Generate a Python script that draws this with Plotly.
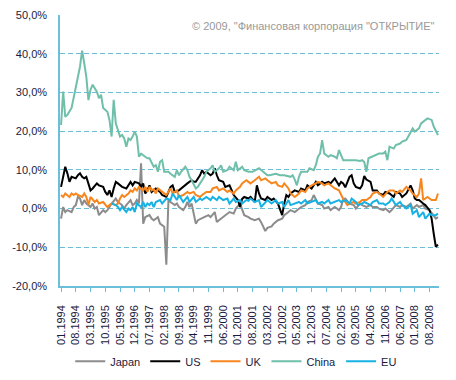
import plotly.graph_objects as go

# month index 0 = 01.1994
x_tick_pos = [0, 7, 14, 21, 28, 35, 42, 49, 56, 63, 70, 77, 84, 91, 98, 105, 112, 119, 126, 133, 140, 147, 154, 161, 168, 175]
x_tick_labels = ["01.1994", "08.1994", "03.1995", "10.1995", "05.1996", "12.1996", "07.1997", "02.1998",
                 "09.1998", "04.1999", "11.1999", "06.2000", "01.2001", "08.2001", "03.2002", "10.2002",
                 "05.2003", "12.2003", "07.2004", "02.2005", "09.2005", "04.2006", "11.2006", "06.2007",
                 "01.2008", "08.2008"]
y_tick_vals = [-20, -10, 0, 10, 20, 30, 40, 50]
y_tick_labels = ["-20,0%", "-10,0%", "0,0%", "10,0%", "20,0%", "30,0%", "40,0%", "50,0%"]

japan_m = [0,1,2,3,5,6,7,8,9,10,11,12,14,15,16,17,18,20,21,22,23,24,26,27,28,29,30,31,33,34,35,36,37,38,39,40,42,43,44,45,46,47,48,49,50,51,52,54,55,56,58,59,60,61,62,63,64,65,67,68,70,71,73,74,75,77,78,80,82,83,85,86,87,89,90,92,94,95,96,97,98,100,101,103,105,106,108,109,111,113,114,116,117,119,120,122,124,125,127,128,130,132,133,134,135,137,139,140,142,143,145,147,148,150,151,153,154,156,157,159,161,162,164,166,167,169,170,172,173,175,177,178,179]
japan_v = [-2.6,0.4,-0.9,-0.4,-0.9,0.4,0.9,3.0,2.6,0.9,2.2,1.3,0.4,1.3,0.0,0.4,-1.7,-0.4,-0.9,-0.4,0.4,1.3,2.6,1.7,1.3,0.9,0.0,0.9,2.2,0.9,1.3,2.2,1.3,11.7,-3.9,-2.2,-1.7,-2.6,-3.0,-2.6,-2.2,-3.9,-4.3,-4.7,-14.5,2.2,1.7,0.9,1.3,0.4,-0.4,0.4,1.7,0.4,1.3,-1.3,-3.9,-3.0,-2.6,-2.2,-1.7,-2.2,-0.9,-3.5,-3.0,-2.2,-1.7,-0.9,-1.3,0.0,1.3,0.0,-1.7,-2.2,-2.6,-3.0,-2.6,-3.5,-4.5,-5.8,-5.0,-4.6,-3.9,-3.0,-2.6,-1.7,-0.9,-0.4,-0.9,0.0,0.4,0.9,1.7,2.2,3.5,1.3,0.9,0.0,0.4,-0.4,0.4,-0.4,0.4,2.5,2.6,1.3,0.9,0.0,1.3,0.9,0.4,0.9,0.4,0.4,0.0,-0.4,0.0,-0.9,-0.4,0.9,0.4,0.9,0.4,1.3,0.0,0.9,0.4,0.9,0.0,-0.4,-1.7,-2.6,-2.2]

us_m = [0,1,2,3,4,5,7,8,9,10,11,12,14,15,16,17,18,20,21,22,23,24,25,26,27,28,29,31,32,33,34,35,37,38,39,40,41,42,43,44,45,47,48,50,52,53,54,56,57,59,60,62,63,64,66,67,68,69,71,72,73,74,75,77,78,80,81,82,84,85,86,87,89,90,92,93,94,95,97,98,100,101,103,105,106,107,108,109,111,113,114,116,117,119,121,122,124,125,127,128,130,132,133,134,135,136,137,138,139,140,142,143,144,145,147,148,150,151,153,154,156,158,159,161,162,164,166,167,168,169,170,172,173,175,176,177,178,179]
us_v = [5.6,8.2,10.8,9.1,6.9,8.2,7.8,8.6,9.1,8.2,7.8,8.2,4.7,5.2,6.0,6.5,6.0,5.6,4.3,3.5,4.7,3.0,5.2,6.9,6.5,6.0,5.6,5.2,6.0,6.9,6.0,6.9,6.5,5.6,6.5,3.9,4.7,6.0,4.3,4.7,5.2,4.3,3.5,3.0,5.6,6.0,4.3,4.7,5.2,6.0,6.5,7.3,6.9,6.9,8.6,9.9,9.0,9.5,8.6,9.0,10.4,8.6,7.3,6.9,5.6,6.0,4.7,3.5,2.2,0.4,2.5,3.0,2.6,3.0,1.7,6.0,3.9,2.6,2.2,3.0,2.2,2.6,1.3,-1.7,1.3,3.5,3.0,3.9,4.7,4.3,5.2,4.7,6.0,5.2,6.9,6.0,6.9,6.5,6.9,6.5,7.8,6.0,6.9,6.5,5.5,6.9,8.2,8.6,6.5,5.6,5.2,6.0,8.4,7.5,6.9,4.7,4.7,3.9,3.5,4.3,3.9,3.0,4.3,3.9,3.0,3.9,6.0,4.7,2.6,2.2,2.2,1.3,0.9,-0.4,-2.6,-6.5,-9.9,-9.3]

uk_m = [0,1,2,4,5,6,7,8,10,11,12,13,14,15,16,17,18,20,21,22,23,24,26,27,28,29,30,32,33,34,35,36,37,39,40,41,42,43,44,45,46,48,50,52,53,55,56,58,60,61,63,64,66,67,69,71,72,74,75,77,79,80,82,83,85,86,88,89,90,92,94,95,97,98,100,102,103,105,106,108,109,111,113,114,116,117,119,121,122,124,125,127,128,130,132,133,134,136,137,139,140,142,143,145,147,148,150,151,153,155,156,158,159,161,162,164,166,167,169,170,171,172,174,175,176,178,179]
uk_v = [3.5,3.0,3.9,3.0,3.9,3.5,3.9,3.5,3.0,3.9,3.0,0.9,3.0,2.2,1.7,2.2,1.3,1.7,0.9,0.4,0.9,1.3,0.9,1.3,2.6,3.5,3.0,3.9,4.7,4.3,5.2,4.7,5.6,4.7,5.6,4.3,5.6,4.7,5.0,3.9,5.2,4.3,3.5,5.2,3.9,4.7,3.0,3.5,4.3,3.9,4.3,3.5,3.0,3.5,4.3,4.3,5.2,5.6,4.7,5.2,4.3,4.7,3.9,4.7,5.6,6.5,7.3,6.9,6.5,7.3,8.2,7.3,7.8,7.3,6.5,6.9,6.0,5.6,6.5,5.2,3.9,3.0,3.9,4.7,4.3,5.2,6.0,6.5,6.9,6.5,6.0,6.5,6.0,5.2,4.7,3.5,2.5,0.9,1.3,1.7,1.3,1.7,2.2,2.2,3.0,3.9,4.3,3.9,3.0,4.3,4.7,4.7,3.9,4.7,4.3,5.6,4.7,3.9,3.0,3.9,7.8,2.2,3.0,2.6,2.2,2.2,3.9]

china_m = [0,1,2,3,5,6,8,9,10,11,12,13,14,15,16,17,18,19,20,21,22,23,24,25,26,27,28,29,30,31,32,33,34,35,36,37,38,40,41,42,43,44,45,46,47,48,49,51,52,54,55,56,57,59,60,61,62,64,65,67,68,69,71,72,73,75,76,77,79,80,82,83,84,86,87,89,91,94,96,98,99,102,104,106,109,110,111,112,113,114,117,118,120,121,122,123,124,125,127,128,130,131,132,133,134,136,138,140,142,143,144,145,146,148,150,151,153,154,155,156,158,159,161,162,164,165,167,168,170,171,173,174,176,177,179]
china_v = [21.6,30.2,23.7,24.2,26.0,29.0,34.0,36.7,40.8,37.6,34.0,28.0,30.7,32.0,31.0,30.2,28.5,29.4,26.0,25.5,25.0,22.9,18.6,28.1,22.0,20.3,18.6,19.0,18.1,16.0,18.1,17.7,18.6,19.9,18.6,13.4,14.2,13.4,13.0,13.0,11.7,10.8,11.2,9.5,12.1,12.5,9.5,9.5,9.0,8.2,9.9,8.6,9.5,10.8,9.9,8.2,7.3,5.2,5.6,7.3,8.2,9.5,10.4,11.2,9.5,10.4,11.2,9.5,9.9,10.8,9.9,12.1,9.9,10.8,9.9,9.5,9.5,10.4,9.5,8.6,8.6,9.0,8.6,8.6,8.2,8.6,7.5,6.0,8.2,9.5,9.5,10.4,9.9,11.2,13.4,14.2,17.7,14.2,13.4,13.8,13.4,13.0,15.1,13.8,12.5,12.5,12.5,12.5,12.3,12.5,12.0,9.5,13.0,13.4,13.8,14.2,14.2,14.7,12.5,16.0,15.5,16.4,16.8,17.3,17.7,18.6,20.7,19.9,20.7,22.0,23.0,23.3,22.9,21.2,19.0]

eu_m = [24,26,27,28,29,31,32,33,34,35,36,38,39,40,41,42,43,44,45,47,48,50,52,53,55,56,58,60,61,63,64,66,67,69,71,72,74,75,77,79,80,82,83,85,86,88,89,90,92,94,95,97,98,100,102,103,105,106,108,109,111,113,114,116,117,119,121,122,124,125,127,128,130,132,133,135,137,138,140,141,143,144,147,148,150,151,153,154,156,157,159,161,162,164,166,167,169,170,172,173,175,176,178,179]
eu_v = [1.3,0.9,0.4,-0.4,0.4,-0.9,0.0,-0.4,0.4,-0.9,1.3,0.4,1.7,0.4,1.3,0.9,1.7,0.4,1.7,2.2,1.3,2.6,2.2,3.9,2.2,3.5,1.7,3.0,1.7,3.0,1.7,2.6,2.2,3.0,2.2,3.0,2.2,3.0,2.2,2.6,1.3,2.6,1.7,2.2,1.3,2.2,2.0,2.6,1.7,2.2,0.4,1.7,2.2,1.3,2.2,1.3,1.7,0.4,2.2,0.9,1.3,1.7,1.3,2.2,1.3,1.7,2.2,1.3,1.7,1.3,2.2,1.3,1.7,2.2,1.7,2.2,1.3,2.6,1.7,0.9,1.3,1.7,0.9,1.7,2.2,1.3,1.3,0.9,1.7,2.6,0.9,1.7,0.9,0.0,0.9,-1.3,-0.4,-2.2,-0.9,-2.6,-1.3,-1.7,-1.7,-1.3]

series = [
    ("Japan", japan_m, japan_v, "#8c8c8c"),
    ("US", us_m, us_v, "#000000"),
    ("UK", uk_m, uk_v, "#f7861e"),
    ("China", china_m, china_v, "#6fbfaa"),
    ("EU", eu_m, eu_v, "#17b2e3"),
]

fig = go.Figure()
for name, m, v, col in series:
    fig.add_trace(go.Scatter(x=m, y=v, mode="lines", name=name,
                             line=dict(color=col, width=2)))

axis_col = "#6cbfda"
text_col = "#1a1a40"
# page body adds an 8px offset, so the figure is 8px smaller and shifted
fig.update_layout(
    width=448, height=372,
    margin=dict(l=52, r=17, t=7, b=94, autoexpand=False),
    paper_bgcolor="white", plot_bgcolor="white",
    font=dict(family="Liberation Sans, Arial, sans-serif", size=11, color=text_col),
    showlegend=True,
    legend=dict(orientation="h", x=0.465, xanchor="center", y=-0.278, yanchor="middle",
                font=dict(size=11, color=text_col), bgcolor="rgba(0,0,0,0)"),
    xaxis=dict(range=[-0.5, 179.5], tickmode="array", tickvals=x_tick_pos, ticktext=x_tick_labels,
               tickangle=-90, showgrid=False, zeroline=False, showline=True, linecolor=axis_col,
               linewidth=1.5, ticks="outside", ticklen=4, tickcolor=axis_col, tickwidth=1,
               ticklabelstandoff=9, automargin=False),
    yaxis=dict(range=[-20, 50], tickmode="array", tickvals=y_tick_vals, ticktext=y_tick_labels,
               showgrid=True, gridcolor=axis_col, griddash="5px,3px", gridwidth=1,
               zeroline=False, showline=True, linecolor=axis_col, linewidth=1.5, ticks="",
               ticklabelstandoff=9, automargin=False),
    annotations=[dict(text="© 2009, \"Финансовая корпорация \"ОТКРЫТИЕ\"", xref="paper", yref="paper",
                      x=0.995, y=0.9586, xanchor="right", yanchor="middle",
                      showarrow=False, font=dict(size=11, color="#999999"))],
)
fig.write_html("out.html")
